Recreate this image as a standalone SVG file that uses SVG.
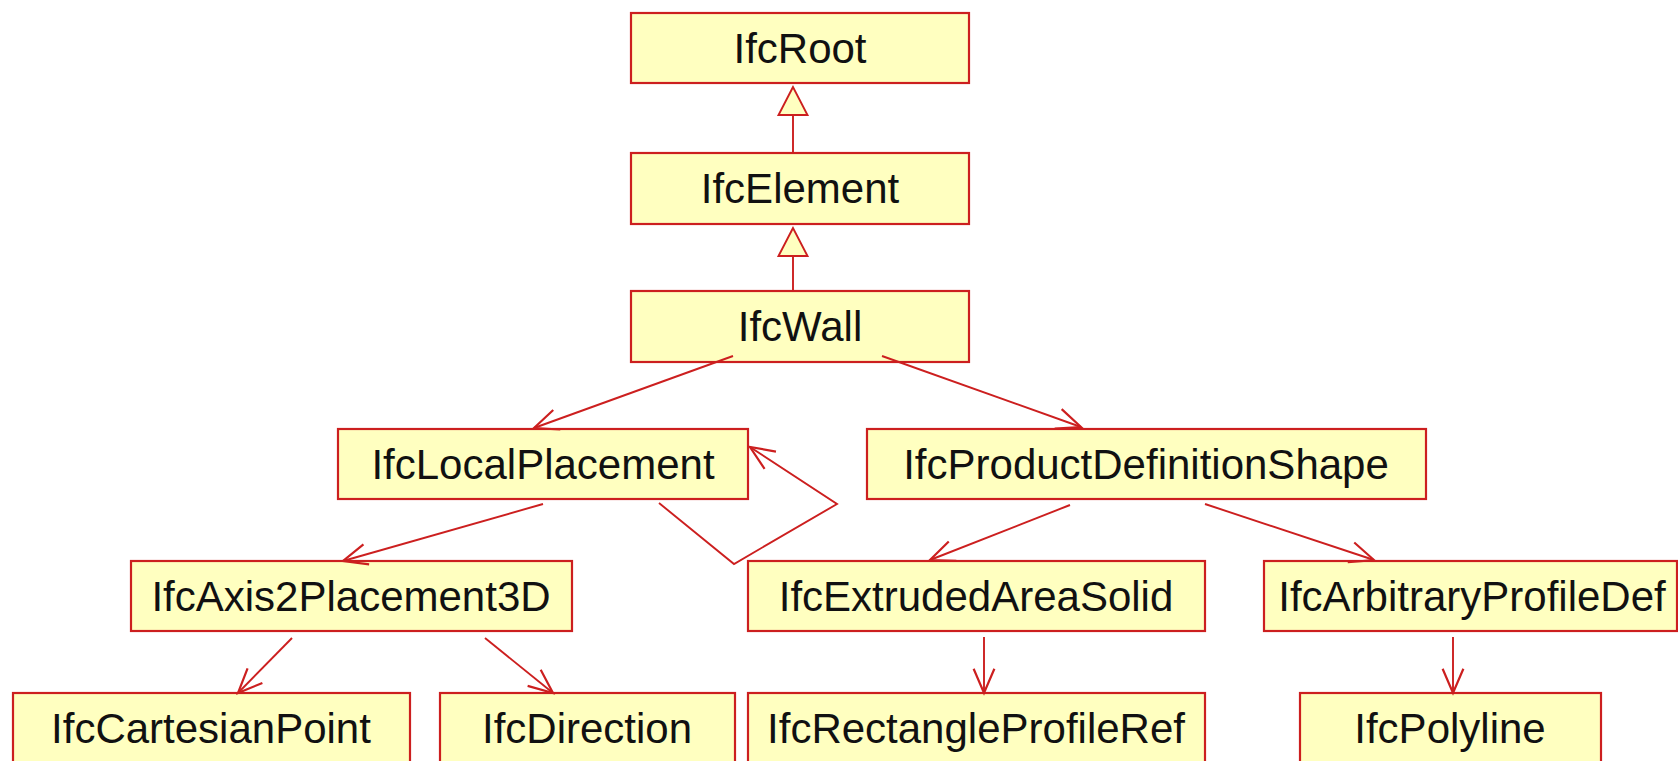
<svg xmlns="http://www.w3.org/2000/svg" width="1678" height="761" viewBox="0 0 1678 761">
<style>
.box rect{fill:#ffffc0;stroke:#cc1f1f;stroke-width:2.2}
.box text{font-family:"Liberation Sans",Arial,sans-serif;font-size:42px;fill:#111;text-anchor:middle}
.conn line,.conn polyline{stroke:#cc1f1f;stroke-width:1.9;fill:none}
.assoc{marker-end:url(#open)}
.gen{marker-end:url(#tri)}
</style>
<defs>
<marker id="open" markerUnits="userSpaceOnUse" markerWidth="30" markerHeight="30" viewBox="-24 -12 26 24" refX="0" refY="0" orient="auto" overflow="visible">
<path d="M-21,-9 L0,0 L-21,9" fill="none" stroke="#cc1f1f" stroke-width="1.9"/>
</marker>
<marker id="tri" markerUnits="userSpaceOnUse" markerWidth="34" markerHeight="34" viewBox="-32 -16 34 32" refX="0" refY="0" orient="auto" overflow="visible">
<path d="M0,0 L-28,-14.5 L-28,14.5 Z" fill="#ffffc0" stroke="#cc1f1f" stroke-width="1.9"/>
</marker>
</defs>
<rect width="1678" height="761" fill="#ffffff"/>
<g id="IfcRoot" class="box"><rect x="631" y="13" width="338" height="70"/><text x="800" y="63">IfcRoot</text></g>
<g id="IfcElement" class="box"><rect x="631" y="153" width="338" height="71"/><text x="800" y="203">IfcElement</text></g>
<g id="IfcWall" class="box"><rect x="631" y="291" width="338" height="71"/><text x="800" y="341">IfcWall</text></g>
<g id="IfcLocalPlacement" class="box"><rect x="338" y="429" width="410" height="70"/><text x="543" y="479">IfcLocalPlacement</text></g>
<g id="IfcProductDefinitionShape" class="box"><rect x="867" y="429" width="559" height="70"/><text x="1146" y="479">IfcProductDefinitionShape</text></g>
<g id="IfcAxis2Placement3D" class="box"><rect x="131" y="561" width="441" height="70"/><text x="351" y="611">IfcAxis2Placement3D</text></g>
<g id="IfcExtrudedAreaSolid" class="box"><rect x="748" y="561" width="457" height="70"/><text x="976" y="611">IfcExtrudedAreaSolid</text></g>
<g id="IfcArbitraryProfileDef" class="box"><rect x="1264" y="561" width="413" height="70"/><text x="1472" y="611">IfcArbitraryProfileDef</text></g>
<g id="IfcCartesianPoint" class="box"><rect x="13" y="693" width="397" height="72"/><text x="211" y="743">IfcCartesianPoint</text></g>
<g id="IfcDirection" class="box"><rect x="440" y="693" width="295" height="72"/><text x="587" y="743">IfcDirection</text></g>
<g id="IfcRectangleProfileRef" class="box"><rect x="748" y="693" width="457" height="72"/><text x="976" y="743">IfcRectangleProfileRef</text></g>
<g id="IfcPolyline" class="box"><rect x="1300" y="693" width="301" height="72"/><text x="1450" y="743">IfcPolyline</text></g>
<g id="connectors" class="conn">
<line class="gen" x1="793" y1="153" x2="793" y2="87"/>
<line class="gen" x1="793" y1="291" x2="793" y2="228"/>
<line class="assoc" x1="733" y1="356" x2="534" y2="428"/>
<line class="assoc" x1="882" y1="356" x2="1081" y2="427"/>
<line class="assoc" x1="543" y1="504" x2="343" y2="561"/>
<polyline class="assoc" points="659,503 734,564 837,504 750,447"/>
<line class="assoc" x1="1070" y1="505" x2="930" y2="560"/>
<line class="assoc" x1="1205" y1="504" x2="1374" y2="560"/>
<line class="assoc" x1="292" y1="638" x2="238" y2="693"/>
<line class="assoc" x1="485" y1="638" x2="553" y2="693"/>
<line class="assoc" x1="984" y1="637" x2="984" y2="693"/>
<line class="assoc" x1="1453" y1="637" x2="1453" y2="693"/>
</g>
</svg>
